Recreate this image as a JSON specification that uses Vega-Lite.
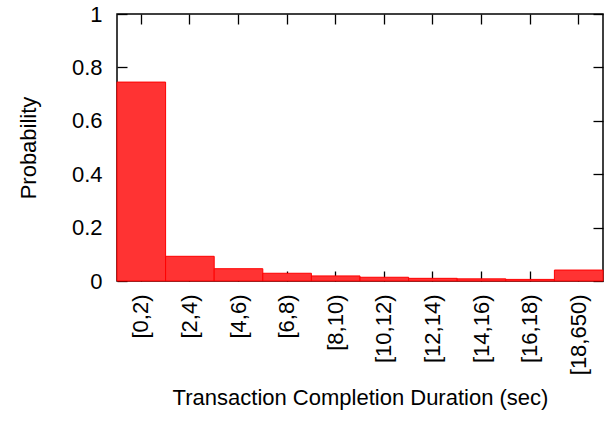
{
  "$schema": "https://vega.github.io/schema/vega-lite/v6.json",
  "width": 486,
  "height": 267,
  "autosize": {"type": "none"},
  "padding": {"left": 117, "top": 14, "right": 4, "bottom": 155},
  "config": {
    "view": {"stroke": "black", "strokeWidth": 1.5},
    "axis": {
      "grid": false,
      "domain": false,
      "tickColor": "black",
      "tickWidth": 1.3,
      "tickSize": -10,
      "labelFont": "Liberation Sans",
      "labelFontSize": 22,
      "labelColor": "black",
      "titleFont": "Liberation Sans",
      "titleFontSize": 22,
      "titleFontWeight": "normal",
      "titleColor": "black",
      "zindex": 1
    }
  },
  "data": {
    "values": [
      {"bin": "[0,2)", "p": 0.745},
      {"bin": "[2,4)", "p": 0.0925},
      {"bin": "[4,6)", "p": 0.046},
      {"bin": "[6,8)", "p": 0.029},
      {"bin": "[8,10)", "p": 0.019},
      {"bin": "[10,12)", "p": 0.014},
      {"bin": "[12,14)", "p": 0.010},
      {"bin": "[14,16)", "p": 0.008},
      {"bin": "[16,18)", "p": 0.006},
      {"bin": "[18,650)", "p": 0.041}
    ]
  },
  "layer": [
    {
      "mark": {"type": "bar", "fill": "#ff3333", "stroke": "#ff0000", "strokeWidth": 1},
      "encoding": {
        "x": {
          "field": "bin", "type": "nominal", "sort": null,
          "scale": {"paddingInner": 0, "paddingOuter": 0},
          "axis": {
            "orient": "bottom", "labelAngle": -90, "labelPadding": 23,
            "title": "Transaction Completion Duration (sec)",
            "titleX": 243, "titleY": 116, "titleBaseline": "middle"
          }
        },
        "y": {
          "field": "p", "type": "quantitative",
          "scale": {"domain": [0, 1], "nice": false},
          "axis": {
            "orient": "left", "values": [0, 0.2, 0.4, 0.6, 0.8, 1],
            "labelPadding": 25, "format": "~g",
            "title": "Probability",
            "titleX": -89, "titleY": 133.5, "titleBaseline": "middle", "titleAngle": -90
          }
        }
      }
    },
    {
      "mark": {"type": "bar", "opacity": 0},
      "encoding": {
        "x": {
          "field": "bin", "type": "nominal", "sort": null,
          "axis": {"orient": "top", "labels": false, "title": null}
        },
        "y": {
          "field": "p", "type": "quantitative",
          "axis": {"orient": "right", "labels": false, "title": null, "values": [0, 0.2, 0.4, 0.6, 0.8, 1]}
        }
      }
    }
  ],
  "resolve": {"axis": {"x": "independent", "y": "independent"}}
}
